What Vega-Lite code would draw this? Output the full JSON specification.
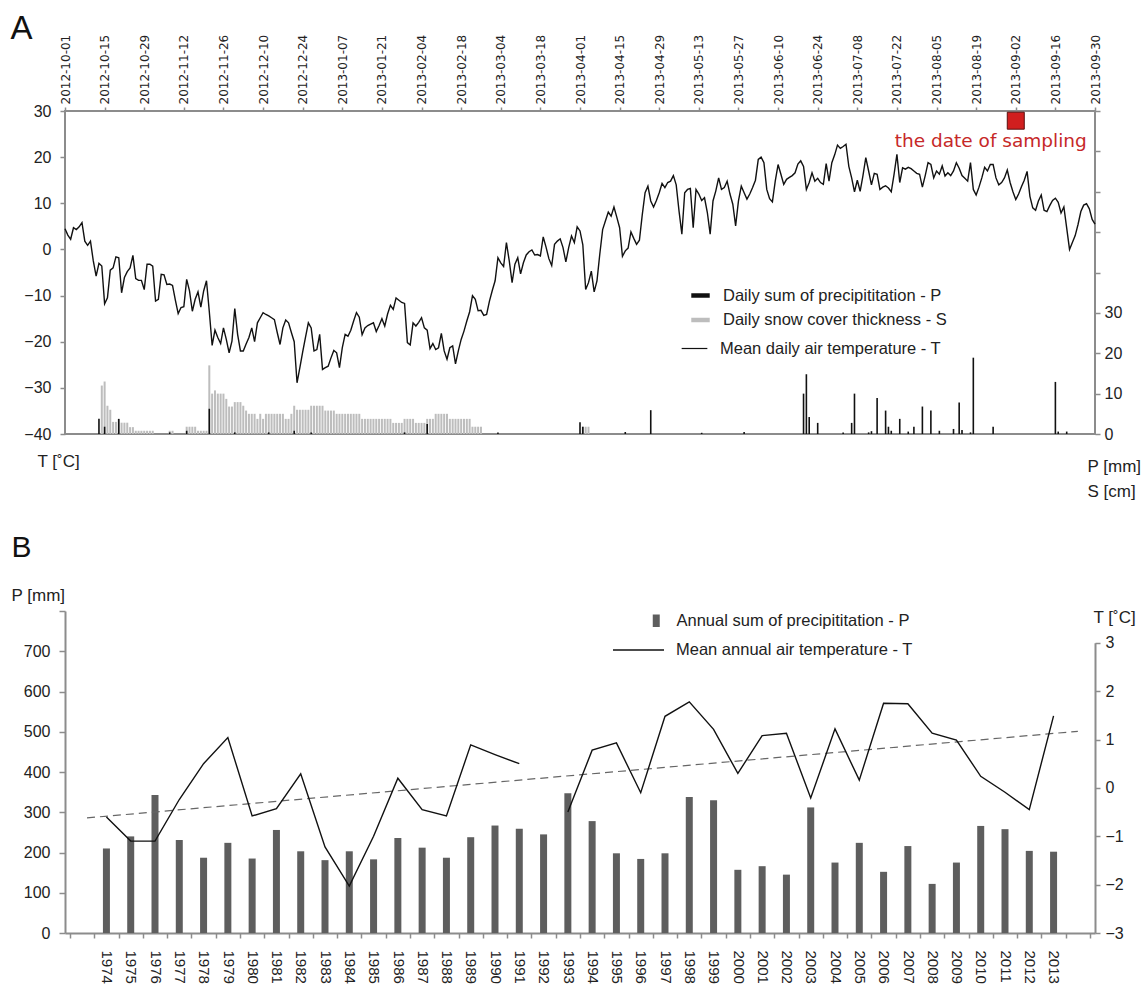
{
"$schema":"https://vega.github.io/schema/vega-lite/v6.json",
"padding":{"left":9,"top":11,"right":0,"bottom":0},
"spacing":177,
"bounds":"flush",
"config":{"view":{"stroke":null},"font":"Liberation Sans","axis":{"grid":false,"labelFont":"Liberation Sans","titleFont":"Liberation Sans","labelColor":"#222222","titleColor":"#222222","titleFontWeight":"normal"},"legend":{"labelFont":"Liberation Sans","labelColor":"#222222","labelLimit":400,"padding":0}},
"resolve":{"scale":{"color":"independent","stroke":"independent"},"legend":{"color":"independent","stroke":"independent"}},
"datasets":{
"daily":[
{"d":"2012-10-01","T":4.5},{"d":"2012-10-02","T":3.1},{"d":"2012-10-03","T":2.2},{"d":"2012-10-04","T":4.7},{"d":"2012-10-05","T":4.3},{"d":"2012-10-06","T":4.9},{"d":"2012-10-07","T":5.8},{"d":"2012-10-08","T":1.8},{"d":"2012-10-09","T":0.9},{"d":"2012-10-10","T":1.8},{"d":"2012-10-11","T":-2.5},{"d":"2012-10-12","T":-5.8},{"d":"2012-10-13","T":-3.0},{"d":"2012-10-14","T":-3.6},{"d":"2012-10-15","T":-11.8},{"d":"2012-10-16","T":-10.5},{"d":"2012-10-17","T":-4.5},{"d":"2012-10-18","T":-4.0},{"d":"2012-10-19","T":-1.6},{"d":"2012-10-20","T":-1.8},{"d":"2012-10-21","T":-9.4},{"d":"2012-10-22","T":-6.1},{"d":"2012-10-23","T":-4.8},{"d":"2012-10-24","T":-4.0},{"d":"2012-10-25","T":-1.3},{"d":"2012-10-26","T":-6.3},{"d":"2012-10-27","T":-6.7},{"d":"2012-10-28","T":-6.7},{"d":"2012-10-29","T":-8.7},{"d":"2012-10-30","T":-3.2},{"d":"2012-10-31","T":-3.2},
{"d":"2012-11-01","T":-3.6},{"d":"2012-11-02","T":-11.2},{"d":"2012-11-03","T":-10.8},{"d":"2012-11-04","T":-5.4},{"d":"2012-11-05","T":-5.5},{"d":"2012-11-06","T":-7.6},{"d":"2012-11-07","T":-7.5},{"d":"2012-11-08","T":-7.8},{"d":"2012-11-09","T":-11.0},{"d":"2012-11-10","T":-13.9},{"d":"2012-11-11","T":-12.6},{"d":"2012-11-12","T":-12.4},{"d":"2012-11-13","T":-6.5},{"d":"2012-11-14","T":-9.0},{"d":"2012-11-15","T":-13.4},{"d":"2012-11-16","T":-10.8},{"d":"2012-11-17","T":-9.2},{"d":"2012-11-18","T":-12.5},{"d":"2012-11-19","T":-9.0},{"d":"2012-11-20","T":-6.8},{"d":"2012-11-21","T":-13.5},{"d":"2012-11-22","T":-20.8},{"d":"2012-11-23","T":-17.5},{"d":"2012-11-24","T":-19.1},{"d":"2012-11-25","T":-20.4},{"d":"2012-11-26","T":-17.0},{"d":"2012-11-27","T":-19.5},{"d":"2012-11-28","T":-22.4},{"d":"2012-11-29","T":-19.9},{"d":"2012-11-30","T":-12.8},
{"d":"2012-12-01","T":-18.4},{"d":"2012-12-02","T":-22.0},{"d":"2012-12-03","T":-22.0},{"d":"2012-12-04","T":-20.5},{"d":"2012-12-05","T":-19.1},{"d":"2012-12-06","T":-17.0},{"d":"2012-12-07","T":-20.0},{"d":"2012-12-08","T":-15.9},{"d":"2012-12-09","T":-14.8},{"d":"2012-12-10","T":-13.7},{"d":"2012-12-11","T":-14.1},{"d":"2012-12-12","T":-14.4},{"d":"2012-12-13","T":-14.8},{"d":"2012-12-14","T":-15.2},{"d":"2012-12-15","T":-18.0},{"d":"2012-12-16","T":-20.6},{"d":"2012-12-17","T":-17.0},{"d":"2012-12-18","T":-15.3},{"d":"2012-12-19","T":-15.9},{"d":"2012-12-20","T":-18.0},{"d":"2012-12-21","T":-20.0},{"d":"2012-12-22","T":-28.9},{"d":"2012-12-23","T":-25.6},{"d":"2012-12-24","T":-22.2},{"d":"2012-12-25","T":-19.0},{"d":"2012-12-26","T":-15.9},{"d":"2012-12-27","T":-17.0},{"d":"2012-12-28","T":-22.0},{"d":"2012-12-29","T":-21.7},{"d":"2012-12-30","T":-18.4},{"d":"2012-12-31","T":-26.0},
{"d":"2013-01-01","T":-25.6},{"d":"2013-01-02","T":-25.3},{"d":"2013-01-03","T":-23.5},{"d":"2013-01-04","T":-21.9},{"d":"2013-01-05","T":-22.4},{"d":"2013-01-06","T":-25.6},{"d":"2013-01-07","T":-21.3},{"d":"2013-01-08","T":-18.4},{"d":"2013-01-09","T":-18.8},{"d":"2013-01-10","T":-17.5},{"d":"2013-01-11","T":-15.5},{"d":"2013-01-12","T":-13.7},{"d":"2013-01-13","T":-14.7},{"d":"2013-01-14","T":-18.5},{"d":"2013-01-15","T":-17.0},{"d":"2013-01-16","T":-16.5},{"d":"2013-01-17","T":-16.2},{"d":"2013-01-18","T":-15.9},{"d":"2013-01-19","T":-17.8},{"d":"2013-01-20","T":-16.5},{"d":"2013-01-21","T":-15.0},{"d":"2013-01-22","T":-16.6},{"d":"2013-01-23","T":-14.0},{"d":"2013-01-24","T":-12.1},{"d":"2013-01-25","T":-13.0},{"d":"2013-01-26","T":-10.5},{"d":"2013-01-27","T":-11.0},{"d":"2013-01-28","T":-11.5},{"d":"2013-01-29","T":-11.7},{"d":"2013-01-30","T":-20.2},{"d":"2013-01-31","T":-20.7},
{"d":"2013-02-01","T":-15.9},{"d":"2013-02-02","T":-16.6},{"d":"2013-02-03","T":-15.8},{"d":"2013-02-04","T":-14.8},{"d":"2013-02-05","T":-17.0},{"d":"2013-02-06","T":-17.5},{"d":"2013-02-07","T":-21.5},{"d":"2013-02-08","T":-20.4},{"d":"2013-02-09","T":-21.7},{"d":"2013-02-10","T":-21.3},{"d":"2013-02-11","T":-18.2},{"d":"2013-02-12","T":-22.0},{"d":"2013-02-13","T":-23.8},{"d":"2013-02-14","T":-21.3},{"d":"2013-02-15","T":-20.9},{"d":"2013-02-16","T":-24.8},{"d":"2013-02-17","T":-22.0},{"d":"2013-02-18","T":-19.5},{"d":"2013-02-19","T":-17.7},{"d":"2013-02-20","T":-15.5},{"d":"2013-02-21","T":-13.5},{"d":"2013-02-22","T":-10.0},{"d":"2013-02-23","T":-10.8},{"d":"2013-02-24","T":-13.3},{"d":"2013-02-25","T":-13.2},{"d":"2013-02-26","T":-14.3},{"d":"2013-02-27","T":-14.1},{"d":"2013-02-28","T":-11.2},
{"d":"2013-03-01","T":-8.9},{"d":"2013-03-02","T":-6.8},{"d":"2013-03-03","T":-1.8},{"d":"2013-03-04","T":-2.9},{"d":"2013-03-05","T":-3.7},{"d":"2013-03-06","T":1.5},{"d":"2013-03-07","T":-2.5},{"d":"2013-03-08","T":-7.2},{"d":"2013-03-09","T":-3.2},{"d":"2013-03-10","T":-1.8},{"d":"2013-03-11","T":-5.3},{"d":"2013-03-12","T":-2.9},{"d":"2013-03-13","T":-1.2},{"d":"2013-03-14","T":-0.5},{"d":"2013-03-15","T":-0.1},{"d":"2013-03-16","T":-1.2},{"d":"2013-03-17","T":-1.1},{"d":"2013-03-18","T":-1.4},{"d":"2013-03-19","T":2.7},{"d":"2013-03-20","T":0.5},{"d":"2013-03-21","T":-2.0},{"d":"2013-03-22","T":-3.5},{"d":"2013-03-23","T":1.1},{"d":"2013-03-24","T":1.8},{"d":"2013-03-25","T":2.3},{"d":"2013-03-26","T":0.4},{"d":"2013-03-27","T":-2.7},{"d":"2013-03-28","T":0.4},{"d":"2013-03-29","T":2.9},{"d":"2013-03-30","T":1.5},{"d":"2013-03-31","T":4.9},
{"d":"2013-04-01","T":4.0},{"d":"2013-04-02","T":1.0},{"d":"2013-04-03","T":-8.7},{"d":"2013-04-04","T":-7.2},{"d":"2013-04-05","T":-4.7},{"d":"2013-04-06","T":-9.2},{"d":"2013-04-07","T":-6.8},{"d":"2013-04-08","T":-1.0},{"d":"2013-04-09","T":4.3},{"d":"2013-04-10","T":6.2},{"d":"2013-04-11","T":8.1},{"d":"2013-04-12","T":7.2},{"d":"2013-04-13","T":9.2},{"d":"2013-04-14","T":7.0},{"d":"2013-04-15","T":4.7},{"d":"2013-04-16","T":-1.5},{"d":"2013-04-17","T":-0.3},{"d":"2013-04-18","T":0.3},{"d":"2013-04-19","T":3.8},{"d":"2013-04-20","T":2.4},{"d":"2013-04-21","T":1.1},{"d":"2013-04-22","T":2.0},{"d":"2013-04-23","T":7.5},{"d":"2013-04-24","T":12.3},{"d":"2013-04-25","T":13.7},{"d":"2013-04-26","T":10.5},{"d":"2013-04-27","T":9.2},{"d":"2013-04-28","T":10.6},{"d":"2013-04-29","T":12.3},{"d":"2013-04-30","T":14.3},
{"d":"2013-05-01","T":13.4},{"d":"2013-05-02","T":14.5},{"d":"2013-05-03","T":14.8},{"d":"2013-05-04","T":16.0},{"d":"2013-05-05","T":14.0},{"d":"2013-05-06","T":8.3},{"d":"2013-05-07","T":3.3},{"d":"2013-05-08","T":12.3},{"d":"2013-05-09","T":13.0},{"d":"2013-05-10","T":13.2},{"d":"2013-05-11","T":4.7},{"d":"2013-05-12","T":13.0},{"d":"2013-05-13","T":12.0},{"d":"2013-05-14","T":10.6},{"d":"2013-05-15","T":11.2},{"d":"2013-05-16","T":8.0},{"d":"2013-05-17","T":3.3},{"d":"2013-05-18","T":10.5},{"d":"2013-05-19","T":12.7},{"d":"2013-05-20","T":15.5},{"d":"2013-05-21","T":13.0},{"d":"2013-05-22","T":13.4},{"d":"2013-05-23","T":14.8},{"d":"2013-05-24","T":12.0},{"d":"2013-05-25","T":9.8},{"d":"2013-05-26","T":5.1},{"d":"2013-05-27","T":10.5},{"d":"2013-05-28","T":13.7},{"d":"2013-05-29","T":12.3},{"d":"2013-05-30","T":10.9},{"d":"2013-05-31","T":12.0},
{"d":"2013-06-01","T":13.4},{"d":"2013-06-02","T":15.0},{"d":"2013-06-03","T":19.5},{"d":"2013-06-04","T":20.0},{"d":"2013-06-05","T":18.8},{"d":"2013-06-06","T":13.0},{"d":"2013-06-07","T":11.0},{"d":"2013-06-08","T":10.3},{"d":"2013-06-09","T":14.8},{"d":"2013-06-10","T":18.4},{"d":"2013-06-11","T":16.3},{"d":"2013-06-12","T":14.1},{"d":"2013-06-13","T":15.2},{"d":"2013-06-14","T":15.6},{"d":"2013-06-15","T":16.0},{"d":"2013-06-16","T":16.6},{"d":"2013-06-17","T":18.5},{"d":"2013-06-18","T":19.2},{"d":"2013-06-19","T":18.0},{"d":"2013-06-20","T":13.0},{"d":"2013-06-21","T":14.5},{"d":"2013-06-22","T":16.6},{"d":"2013-06-23","T":14.8},{"d":"2013-06-24","T":15.4},{"d":"2013-06-25","T":14.5},{"d":"2013-06-26","T":14.1},{"d":"2013-06-27","T":18.6},{"d":"2013-06-28","T":14.8},{"d":"2013-06-29","T":18.8},{"d":"2013-06-30","T":20.5},
{"d":"2013-07-01","T":22.6},{"d":"2013-07-02","T":21.9},{"d":"2013-07-03","T":22.3},{"d":"2013-07-04","T":22.8},{"d":"2013-07-05","T":18.0},{"d":"2013-07-06","T":15.5},{"d":"2013-07-07","T":12.5},{"d":"2013-07-08","T":15.0},{"d":"2013-07-09","T":12.6},{"d":"2013-07-10","T":16.0},{"d":"2013-07-11","T":19.9},{"d":"2013-07-12","T":17.0},{"d":"2013-07-13","T":14.0},{"d":"2013-07-14","T":16.5},{"d":"2013-07-15","T":16.3},{"d":"2013-07-16","T":13.0},{"d":"2013-07-17","T":13.5},{"d":"2013-07-18","T":13.8},{"d":"2013-07-19","T":13.3},{"d":"2013-07-20","T":12.5},{"d":"2013-07-21","T":16.3},{"d":"2013-07-22","T":20.6},{"d":"2013-07-23","T":14.5},{"d":"2013-07-24","T":17.7},{"d":"2013-07-25","T":17.4},{"d":"2013-07-26","T":17.8},{"d":"2013-07-27","T":17.5},{"d":"2013-07-28","T":17.0},{"d":"2013-07-29","T":16.5},{"d":"2013-07-30","T":16.3},{"d":"2013-07-31","T":13.5},
{"d":"2013-08-01","T":16.0},{"d":"2013-08-02","T":18.8},{"d":"2013-08-03","T":18.4},{"d":"2013-08-04","T":15.5},{"d":"2013-08-05","T":17.0},{"d":"2013-08-06","T":16.3},{"d":"2013-08-07","T":18.1},{"d":"2013-08-08","T":15.9},{"d":"2013-08-09","T":16.6},{"d":"2013-08-10","T":16.0},{"d":"2013-08-11","T":17.0},{"d":"2013-08-12","T":18.8},{"d":"2013-08-13","T":17.6},{"d":"2013-08-14","T":16.0},{"d":"2013-08-15","T":15.4},{"d":"2013-08-16","T":14.8},{"d":"2013-08-17","T":18.8},{"d":"2013-08-18","T":13.0},{"d":"2013-08-19","T":11.8},{"d":"2013-08-20","T":13.5},{"d":"2013-08-21","T":15.5},{"d":"2013-08-22","T":17.8},{"d":"2013-08-23","T":17.0},{"d":"2013-08-24","T":18.4},{"d":"2013-08-25","T":18.4},{"d":"2013-08-26","T":15.5},{"d":"2013-08-27","T":14.0},{"d":"2013-08-28","T":14.5},{"d":"2013-08-29","T":15.5},{"d":"2013-08-30","T":17.2},{"d":"2013-08-31","T":14.5},
{"d":"2013-09-01","T":12.5},{"d":"2013-09-02","T":10.8},{"d":"2013-09-03","T":12.0},{"d":"2013-09-04","T":13.6},{"d":"2013-09-05","T":15.0},{"d":"2013-09-06","T":16.9},{"d":"2013-09-07","T":11.5},{"d":"2013-09-08","T":9.0},{"d":"2013-09-09","T":8.5},{"d":"2013-09-10","T":10.5},{"d":"2013-09-11","T":11.8},{"d":"2013-09-12","T":8.5},{"d":"2013-09-13","T":8.2},{"d":"2013-09-14","T":9.5},{"d":"2013-09-15","T":10.6},{"d":"2013-09-16","T":11.1},{"d":"2013-09-17","T":10.2},{"d":"2013-09-18","T":7.9},{"d":"2013-09-19","T":9.2},{"d":"2013-09-20","T":4.6},{"d":"2013-09-21","T":0.0},{"d":"2013-09-22","T":1.5},{"d":"2013-09-23","T":3.0},{"d":"2013-09-24","T":5.4},{"d":"2013-09-25","T":8.2},{"d":"2013-09-26","T":9.6},{"d":"2013-09-27","T":9.9},{"d":"2013-09-28","T":8.8},{"d":"2013-09-29","T":6.5},{"d":"2013-09-30","T":5.5}
],
"precip":[
{"d":"2012-10-13","P":3.75},{"d":"2012-10-15","P":1.8},{"d":"2012-10-20","P":3.75},{"d":"2012-11-07","P":0.4},{"d":"2012-11-13","P":0.8},{"d":"2012-11-21","P":6.25},{"d":"2012-11-30","P":0.4},{"d":"2012-12-12","P":0.4},{"d":"2012-12-21","P":0.8},{"d":"2012-12-27","P":0.4},{"d":"2013-01-29","P":0.4},{"d":"2013-02-06","P":2.5},{"d":"2013-03-03","P":0.4},{"d":"2013-04-01","P":2.9},{"d":"2013-04-02","P":1.8},{"d":"2013-04-17","P":0.5},{"d":"2013-04-26","P":5.9},{"d":"2013-05-14","P":0.3},{"d":"2013-05-29","P":0.5},{"d":"2013-06-19","P":10},{"d":"2013-06-20","P":14.8},{"d":"2013-06-21","P":4.2},{"d":"2013-06-24","P":2.75},{"d":"2013-07-03","P":0.4},{"d":"2013-07-06","P":2.75},{"d":"2013-07-07","P":10},{"d":"2013-07-12","P":0.4},{"d":"2013-07-13","P":0.7},{"d":"2013-07-15","P":8.9},{"d":"2013-07-18","P":5.8},{"d":"2013-07-19","P":1.8},{"d":"2013-07-20","P":0.8},{"d":"2013-07-23","P":3.75},{"d":"2013-07-26","P":0.6},{"d":"2013-07-28","P":1.8},{"d":"2013-07-31","P":6.8},{"d":"2013-08-03","P":5.8},{"d":"2013-08-06","P":0.8},{"d":"2013-08-11","P":1.25},{"d":"2013-08-13","P":7.8},{"d":"2013-08-14","P":1.0},{"d":"2013-08-17","P":0.4},{"d":"2013-08-18","P":18.9},{"d":"2013-08-25","P":1.8},{"d":"2013-09-16","P":12.9},{"d":"2013-09-17","P":0.6},{"d":"2013-09-20","P":0.6}
],
"snow":[
{"d":"2012-10-14","S":12},{"d":"2012-10-15","S":13},{"d":"2012-10-16","S":7},{"d":"2012-10-17","S":6},{"d":"2012-10-18","S":3},{"d":"2012-10-19","S":3},{"d":"2012-10-20","S":3.7},{"d":"2012-10-21","S":2.8},{"d":"2012-10-22","S":2.8},{"d":"2012-10-23","S":2.8},{"d":"2012-10-24","S":1.7},{"d":"2012-10-25","S":1.7},{"d":"2012-10-26","S":0.8},{"d":"2012-10-27","S":0.8},{"d":"2012-10-28","S":0.8},{"d":"2012-10-29","S":0.8},{"d":"2012-10-30","S":0.8},{"d":"2012-10-31","S":0.8},{"d":"2012-11-01","S":0.8},{"d":"2012-11-07","S":0.8},{"d":"2012-11-08","S":0.8},{"d":"2012-11-13","S":1.8},{"d":"2012-11-14","S":1.8},{"d":"2012-11-15","S":1.8},{"d":"2012-11-16","S":1.8},{"d":"2012-11-17","S":0.8},{"d":"2012-11-18","S":0.8},{"d":"2012-11-19","S":0.8},{"d":"2012-11-20","S":0.8},
{"d":"2012-11-21","S":17},{"d":"2012-11-22","S":10},{"d":"2012-11-23","S":10.8},{"d":"2012-11-24","S":10},{"d":"2012-11-25","S":10},{"d":"2012-11-26","S":10},{"d":"2012-11-27","S":8.7},{"d":"2012-11-28","S":6.8},{"d":"2012-11-29","S":6.8},{"d":"2012-11-30","S":7.9},{"d":"2012-12-01","S":7.9},{"d":"2012-12-02","S":7.9},{"d":"2012-12-03","S":7},{"d":"2012-12-04","S":5.8},{"d":"2012-12-05","S":5},{"d":"2012-12-06","S":5},{"d":"2012-12-07","S":5},{"d":"2012-12-08","S":3.75},{"d":"2012-12-09","S":5},{"d":"2012-12-10","S":3.75},{"d":"2012-12-11","S":5},{"d":"2012-12-12","S":5},{"d":"2012-12-13","S":5},{"d":"2012-12-14","S":5},{"d":"2012-12-15","S":5},{"d":"2012-12-16","S":5},{"d":"2012-12-17","S":5},{"d":"2012-12-18","S":3.75},{"d":"2012-12-19","S":3.75},{"d":"2012-12-20","S":5},{"d":"2012-12-21","S":7},{"d":"2012-12-22","S":6},{"d":"2012-12-23","S":6},{"d":"2012-12-24","S":6},{"d":"2012-12-25","S":6},{"d":"2012-12-26","S":6},{"d":"2012-12-27","S":7},{"d":"2012-12-28","S":7},{"d":"2012-12-29","S":7},{"d":"2012-12-30","S":7},{"d":"2012-12-31","S":7},
{"d":"2013-01-01","S":5.8},{"d":"2013-01-02","S":5.8},{"d":"2013-01-03","S":5.8},{"d":"2013-01-04","S":5.8},{"d":"2013-01-05","S":5},{"d":"2013-01-06","S":5},{"d":"2013-01-07","S":5},{"d":"2013-01-08","S":5},{"d":"2013-01-09","S":5},{"d":"2013-01-10","S":5},{"d":"2013-01-11","S":5},{"d":"2013-01-12","S":5},{"d":"2013-01-13","S":5},{"d":"2013-01-14","S":3.75},{"d":"2013-01-15","S":3.75},{"d":"2013-01-16","S":3.75},{"d":"2013-01-17","S":3.75},{"d":"2013-01-18","S":3.75},{"d":"2013-01-19","S":3.75},{"d":"2013-01-20","S":3.75},{"d":"2013-01-21","S":3.75},{"d":"2013-01-22","S":3.75},{"d":"2013-01-23","S":3.75},{"d":"2013-01-24","S":3.75},{"d":"2013-01-25","S":2.75},{"d":"2013-01-26","S":2.75},{"d":"2013-01-27","S":2.75},{"d":"2013-01-28","S":2.75},{"d":"2013-01-29","S":3.75},{"d":"2013-01-30","S":3.75},{"d":"2013-01-31","S":3.75},{"d":"2013-02-01","S":3.75},{"d":"2013-02-02","S":2.75},{"d":"2013-02-03","S":2.75},{"d":"2013-02-04","S":2.75},{"d":"2013-02-05","S":2.75},{"d":"2013-02-06","S":3.75},{"d":"2013-02-07","S":3.75},{"d":"2013-02-08","S":3.75},{"d":"2013-02-09","S":5},{"d":"2013-02-10","S":5},{"d":"2013-02-11","S":5},{"d":"2013-02-12","S":5},{"d":"2013-02-13","S":5},{"d":"2013-02-14","S":3.75},{"d":"2013-02-15","S":3.75},{"d":"2013-02-16","S":3.75},{"d":"2013-02-17","S":3.75},{"d":"2013-02-18","S":3.75},{"d":"2013-02-19","S":3.75},{"d":"2013-02-20","S":3.75},{"d":"2013-02-21","S":3.75},{"d":"2013-02-22","S":1.8},{"d":"2013-02-23","S":1.8},{"d":"2013-02-24","S":1.8},{"d":"2013-02-25","S":1.8},{"d":"2013-04-02","S":1.8},{"d":"2013-04-03","S":1.8},{"d":"2013-04-04","S":1.8}
],
"sampling":[{"d":"2013-09-02","T":27.9,"label":"the date of sampling"}],
"annual":[
{"year":1974,"P":210,"T":-0.60},{"year":1975,"P":240,"T":-1.10},{"year":1976,"P":343,"T":-1.10},{"year":1977,"P":231,"T":-0.24},{"year":1978,"P":187,"T":0.50},{"year":1979,"P":224,"T":1.04},{"year":1980,"P":185,"T":-0.58},{"year":1981,"P":256,"T":-0.43},{"year":1982,"P":203,"T":0.29},{"year":1983,"P":181,"T":-1.22},{"year":1984,"P":203,"T":-2.03},{"year":1985,"P":183,"T":-1.00},{"year":1986,"P":236,"T":0.20},{"year":1987,"P":212,"T":-0.45},{"year":1988,"P":187,"T":-0.58},{"year":1989,"P":238,"T":0.89},{"year":1990,"P":267,"T":0.69},{"year":1991,"P":259,"T":0.50},{"year":1992,"P":245,"T":null},{"year":1993,"P":347,"T":-0.50},{"year":1994,"P":278,"T":0.78},{"year":1995,"P":198,"T":0.93},{"year":1996,"P":184,"T":-0.10},{"year":1997,"P":198,"T":1.48},{"year":1998,"P":338,"T":1.78},{"year":1999,"P":330,"T":1.21},{"year":2000,"P":157,"T":0.30},{"year":2001,"P":166,"T":1.08},{"year":2002,"P":145,"T":1.13},{"year":2003,"P":312,"T":-0.21},{"year":2004,"P":175,"T":1.22},{"year":2005,"P":224,"T":0.16},{"year":2006,"P":152,"T":1.75},{"year":2007,"P":216,"T":1.74},{"year":2008,"P":122,"T":1.13},{"year":2009,"P":175,"T":0.99},{"year":2010,"P":266,"T":0.24},{"year":2011,"P":258,"T":-0.09},{"year":2012,"P":204,"T":-0.45},{"year":2013,"P":202,"T":1.49}
],
"trend":[{"year":1973.2,"T":-0.62},{"year":2014.0,"T":1.17}]
},
"vconcat":[
{
"width":1030,"height":323,
"view":{"stroke":"#8c8c8c","strokeWidth":2},
"layer":[
{"layer":[
{"data":{"name":"daily"},"mark":{"type":"line","strokeWidth":1.4},
"encoding":{
"x":{"field":"d","type":"temporal","title":"A","scale":{"type":"utc","nice":false,"domain":[{"year":2012,"month":10,"date":1,"utc":true},{"year":2013,"month":9,"date":30,"utc":true}]},
"axis":{"orient":"top","format":"%Y-%m-%d","tickCount":100,"labelAngle":-90,"labelFont":"DejaVu Sans","labelFontSize":12,"labelColor":"#222222","labelPadding":3,"labelFlush":false,"labelOverlap":false,"labelBound":false,"tickSize":4,"tickColor":"#8c8c8c","tickWidth":1.5,"domain":false,
"values":[{"year":2012,"month":10,"date":1,"utc":true},{"year":2012,"month":10,"date":15,"utc":true},{"year":2012,"month":10,"date":29,"utc":true},{"year":2012,"month":11,"date":12,"utc":true},{"year":2012,"month":11,"date":26,"utc":true},{"year":2012,"month":12,"date":10,"utc":true},{"year":2012,"month":12,"date":24,"utc":true},{"year":2013,"month":1,"date":7,"utc":true},{"year":2013,"month":1,"date":21,"utc":true},{"year":2013,"month":2,"date":4,"utc":true},{"year":2013,"month":2,"date":18,"utc":true},{"year":2013,"month":3,"date":4,"utc":true},{"year":2013,"month":3,"date":18,"utc":true},{"year":2013,"month":4,"date":1,"utc":true},{"year":2013,"month":4,"date":15,"utc":true},{"year":2013,"month":4,"date":29,"utc":true},{"year":2013,"month":5,"date":13,"utc":true},{"year":2013,"month":5,"date":27,"utc":true},{"year":2013,"month":6,"date":10,"utc":true},{"year":2013,"month":6,"date":24,"utc":true},{"year":2013,"month":7,"date":8,"utc":true},{"year":2013,"month":7,"date":22,"utc":true},{"year":2013,"month":8,"date":5,"utc":true},{"year":2013,"month":8,"date":19,"utc":true},{"year":2013,"month":9,"date":2,"utc":true},{"year":2013,"month":9,"date":16,"utc":true},{"year":2013,"month":9,"date":30,"utc":true}],
"title":"A","titleFontSize":33,"titleColor":"#111111","titleAngle":0,"titleAlign":"left","titleBaseline":"alphabetic","titleX":-55,"titleY":-73}},
"y":{"field":"T","type":"quantitative","title":"T [˚C]","scale":{"domain":[-40,30],"nice":false,"zero":false},
"axis":{"orient":"left","values":[-40,-30,-20,-10,0,10,20,30],"tickCount":20,"domain":false,"tickSize":5,"tickColor":"#8c8c8c","tickWidth":1.5,"labelFontSize":16,"labelPadding":9,"title":"T [˚C]","titleAngle":0,"titleAlign":"left","titleBaseline":"middle","titleX":-28,"titleY":350,"titleFontSize":17}},
"stroke":{"datum":"Mean daily air temperature - T","scale":{"range":["#111111"]},
"legend":{"orient":"none","legendX":616,"legendY":224,"title":null,"symbolType":"stroke","symbolStrokeWidth":1.2,"symbolSize":660,"labelOffset":12,"labelFontSize":16.5,"labelLimit":400,"padding":0}}
}},
{"data":{"name":"sampling"},"mark":{"type":"point","shape":"square","size":289,"filled":true,"fill":"#d11f1f","stroke":"#5a0f0f","strokeWidth":1,"opacity":1},
"encoding":{
"x":{"field":"d","type":"temporal","title":"A","scale":{"type":"utc","nice":false,"domain":[{"year":2012,"month":10,"date":1,"utc":true},{"year":2013,"month":9,"date":30,"utc":true}]}},
"y":{"field":"T","type":"quantitative","title":"T [˚C]","scale":{"domain":[-40,30],"nice":false,"zero":false}}}},
{"data":{"name":"sampling"},"mark":{"type":"text","font":"DejaVu Sans","fontSize":18.5,"color":"#c62828","align":"center","baseline":"middle","dx":-25,"dy":20},
"encoding":{
"x":{"field":"d","type":"temporal","title":"A","scale":{"type":"utc","nice":false,"domain":[{"year":2012,"month":10,"date":1,"utc":true},{"year":2013,"month":9,"date":30,"utc":true}]}},
"y":{"field":"T","type":"quantitative","title":"T [˚C]","scale":{"domain":[-40,30],"nice":false,"zero":false}},
"text":{"field":"label"}}}
]},
{"layer":[
{"data":{"name":"snow"},"mark":{"type":"rule","strokeWidth":2},
"encoding":{
"x":{"field":"d","type":"temporal","title":"A","scale":{"type":"utc","nice":false,"domain":[{"year":2012,"month":10,"date":1,"utc":true},{"year":2013,"month":9,"date":30,"utc":true}]}},
"y":{"field":"S","type":"quantitative","title":["P [mm]","S [cm]"],"scale":{"domain":[0,80],"nice":false,"zero":true},
"axis":{"orient":"right","values":[0,10,20,30,40,50,60,70,80],"tickCount":20,"labelExpr":"datum.value <= 30 ? datum.label : ''","domain":false,"tickSize":5,"tickColor":"#8c8c8c","tickWidth":1.5,"labelFontSize":16,"labelPadding":4,"title":["P [mm]","S [cm]"],"titleAngle":0,"titleAlign":"left","titleBaseline":"top","titleX":-8,"titleY":347,"titleLineHeight":25,"titleFontSize":17}},
"y2":{"datum":0},
"color":{"datum":"Daily snow cover thickness - S","scale":{"domain":["Daily sum of precipititation - P","Daily snow cover thickness - S"],"range":["#111111","#bdbdbd"]},
"legend":{"orient":"none","legendX":624,"legendY":173,"title":null,"symbolType":"stroke","symbolStrokeWidth":4.5,"symbolSize":340,"labelOffset":11,"rowPadding":3.5,"labelFontSize":16.5,"labelLimit":400,"padding":0}}
}},
{"data":{"name":"precip"},"mark":{"type":"rule","strokeWidth":1.6},
"encoding":{
"x":{"field":"d","type":"temporal","title":"A","scale":{"type":"utc","nice":false,"domain":[{"year":2012,"month":10,"date":1,"utc":true},{"year":2013,"month":9,"date":30,"utc":true}]}},
"y":{"field":"P","type":"quantitative","title":["P [mm]","S [cm]"],"scale":{"domain":[0,80],"nice":false,"zero":true}},
"y2":{"datum":0},
"color":{"datum":"Daily sum of precipititation - P","scale":{"domain":["Daily sum of precipititation - P","Daily snow cover thickness - S"],"range":["#111111","#bdbdbd"]}}
}}
]}
],
"resolve":{"scale":{"y":"independent"},"axis":{"y":"independent"}}
},
{
"width":1030,"height":322,
"layer":[
{"layer":[
{"data":{"name":"annual"},"mark":{"type":"bar","size":7},
"encoding":{
"x":{"field":"year","type":"quantitative","title":"B","scale":{"domain":[1972.5,2014.5],"nice":false,"zero":false},
"axis":{"orient":"bottom","tickCount":100,"values":[1972.5,1973.5,1974.5,1975.5,1976.5,1977.5,1978.5,1979.5,1980.5,1981.5,1982.5,1983.5,1984.5,1985.5,1986.5,1987.5,1988.5,1989.5,1990.5,1991.5,1992.5,1993.5,1994.5,1995.5,1996.5,1997.5,1998.5,1999.5,2000.5,2001.5,2002.5,2003.5,2004.5,2005.5,2006.5,2007.5,2008.5,2009.5,2010.5,2011.5,2012.5,2013.5,2014.5],
"labelExpr":"datum.value > 1973.6 && datum.value < 2013.6 ? '' + floor(datum.value) : ''","labelAngle":90,"labelOffset":-12,"labelPadding":12,"labelFontSize":15,"labelFlush":false,"labelOverlap":false,"labelBound":false,"tickSize":5,"tickColor":"#8c8c8c","tickWidth":1.5,"domainColor":"#8c8c8c","domainWidth":2,
"title":"B","titleFontSize":30,"titleColor":"#111111","titleAngle":0,"titleAlign":"left","titleBaseline":"alphabetic","titleX":-54,"titleY":-377}},
"y":{"field":"P","type":"quantitative","title":"P [mm]","scale":{"domain":[0,800],"nice":false},
"axis":{"orient":"left","values":[0,100,200,300,400,500,600,700,800],"tickCount":40,"labelExpr":"datum.value == 800 ? '' : datum.label","domainColor":"#8c8c8c","domainWidth":2,"tickSize":6,"tickColor":"#8c8c8c","tickWidth":1.5,"labelFontSize":16,"labelPadding":9,"title":"P [mm]","titleAngle":0,"titleAlign":"left","titleBaseline":"middle","titleX":-54,"titleY":-16,"titleFontSize":17}},
"color":{"datum":"Annual sum of precipititation - P","scale":{"range":["#5e5e5e"]},
"legend":{"orient":"none","legendX":583,"legendY":1.5,"title":null,"symbolType":"M-0.56,-1L0.56,-1L0.56,1L-0.56,1Z","symbolSize":156,"symbolStrokeWidth":0,"labelOffset":12,"labelFontSize":16.5,"labelLimit":400,"padding":0}}
}}
]},
{"layer":[
{"data":{"name":"trend"},"mark":{"type":"line","color":"#666666","strokeWidth":1.2,"strokeDash":[8,5]},
"encoding":{
"x":{"field":"year","type":"quantitative","title":"B","scale":{"domain":[1972.5,2014.5],"nice":false,"zero":false}},
"y":{"field":"T","type":"quantitative","title":"T [˚C]","scale":{"domain":[-3,3],"range":[322,31.8],"nice":false,"zero":false},
"axis":{"orient":"right","values":[-3,-2,-1,0,1,2,3],"tickCount":20,"format":"d","domainColor":"#8c8c8c","domainWidth":2,"tickSize":5,"tickColor":"#8c8c8c","tickWidth":1.5,"labelFontSize":16,"labelPadding":5,"title":"T [˚C]","titleAngle":0,"titleAlign":"left","titleBaseline":"middle","titleX":-2,"titleY":6,"titleFontSize":17}}
}},
{"data":{"name":"annual"},"mark":{"type":"line","strokeWidth":1.4,"invalid":"break-paths-show-domains"},
"encoding":{
"x":{"field":"year","type":"quantitative","title":"B","scale":{"domain":[1972.5,2014.5],"nice":false,"zero":false}},
"y":{"field":"T","type":"quantitative","title":"T [˚C]","scale":{"domain":[-3,3],"range":[322,31.8],"nice":false,"zero":false}},
"stroke":{"datum":"Mean annual air temperature - T","scale":{"range":["#111111"]},
"legend":{"orient":"none","legendX":547,"legendY":12.5,"title":null,"symbolType":"stroke","symbolStrokeWidth":1.3,"symbolSize":2601,"labelOffset":11,"labelFontSize":16.5,"labelLimit":400,"padding":0}}
}}
]}
],
"resolve":{"scale":{"y":"independent"},"axis":{"y":"independent"}}
}
]
}
